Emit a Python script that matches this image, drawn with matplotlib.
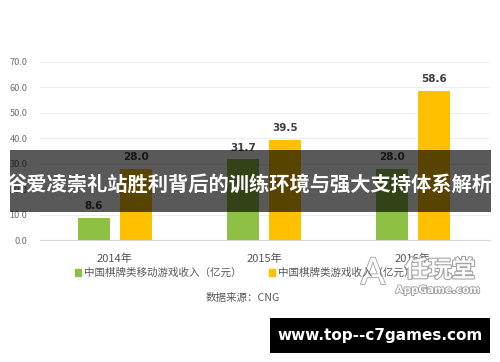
import matplotlib
matplotlib.use("Agg")
import matplotlib.pyplot as plt
import matplotlib.patches as mpatches
import matplotlib.patheffects as pe
import numpy as np

plt.rcParams['font.family'] = ['Noto Sans CJK SC', 'DejaVu Sans']

years = ['2014年', '2015年', '2016年']
mobile = [8.6, 31.7, 28.0]
total = [28.0, 39.5, 58.6]
series_names = ['中国棋牌类移动游戏收入（亿元）', '中国棋牌类游戏收入（亿元）']
yticks = [0, 10, 20, 30, 40, 50, 60, 70]
title = '谷爱凌崇礼站胜利背后的训练环境与强大支持体系解析'
source = '数据来源：CNG'
site = 'www.top--c7games.com'

green = '#8DC044'
yellow = '#FFC000'

W, H = 500, 362
fig = plt.figure(figsize=(W / 100, H / 100), dpi=100)
fig.patch.set_facecolor('white')

ax = fig.add_axes([40 / W, 1 - 240 / H, 450 / W, 178 / H])
x = np.arange(len(years))
bw = 0.22
off = 0.141
b1 = ax.bar(x - off, mobile, bw, color=green, zorder=3)
b2 = ax.bar(x + off, total, bw, color=yellow, zorder=3)
for bars, vals in ((b1, mobile), (b2, total)):
    for r, v in zip(bars, vals):
        ax.text(r.get_x() + r.get_width() / 2, v + 4.6, f'{v:.1f}', ha='center', va='center',
                fontsize=7.5, fontweight='bold', color='#404040', family='DejaVu Sans', zorder=4)

ax.set_xlim(-0.503, 2.517)
ax.set_ylim(0, 70)
ax.set_yticks(yticks)
ax.set_yticklabels([f'{t:.1f}' for t in yticks], fontsize=6.6, color='#707070')
ax.set_xticks(x)
ax.set_xticklabels(years, fontsize=8, color='#555555')
ax.tick_params(axis='both', length=0)
ax.tick_params(axis='x', pad=10)
ax.tick_params(axis='y', pad=9)
ax.grid(axis='y', color='#EEEEEE', linewidth=0.8, zorder=0)
for s in ['top', 'right', 'left']:
    ax.spines[s].set_visible(False)
ax.spines['bottom'].set_color('#D9D9D9')
ax.spines['bottom'].set_linewidth(0.8)

# legend
handles = [mpatches.Patch(color=green, label=series_names[0]),
           mpatches.Patch(color=yellow, label=series_names[1])]
fig.legend(handles=handles, loc='center', bbox_to_anchor=(245 / W, 1 - 273 / H), ncol=2,
           frameon=False, fontsize=7.6, handlelength=0.55, handleheight=0.55, handletextpad=0.3,
           columnspacing=2.6, labelcolor='#595959')
fig.text(243 / W, 1 - 298 / H, source, ha='center', va='center', fontsize=7.6, color='#595959')

# watermark logo
fig.text(440 / W, 1 - 270 / H, '任玩堂', ha='center', va='center', fontsize=17, fontweight='bold',
         color='white', path_effects=[pe.withStroke(linewidth=1.5, foreground='#9a9a9a')], alpha=0.9)
fig.text(438 / W, 1 - 290 / H, 'AppGame.com', ha='center', va='center', fontsize=7.5, fontweight='bold',
         color='white', family='DejaVu Sans',
         path_effects=[pe.withStroke(linewidth=1.2, foreground='#9a9a9a')])
fig.text(373 / W, 1 - 274 / H, 'A', ha='center', va='center', fontsize=26, color='white',
         family='DejaVu Sans', path_effects=[pe.withStroke(linewidth=1.2, foreground='#a0a0a0')])

# overlay band with title
fig.patches.append(mpatches.Rectangle((10 / W, 1 - 212 / H), 481 / W, 62 / H,
                                      transform=fig.transFigure, facecolor='black', alpha=0.65,
                                      edgecolor='none', zorder=5))
fig.text(250 / W, 1 - 184 / H, title, ha='center', va='center', fontsize=14.6, fontweight='bold',
         color='white', zorder=6)

# site box
fig.patches.append(mpatches.Rectangle((270 / W, 1 - 353 / H), 220 / W, 35 / H,
                                      transform=fig.transFigure, facecolor='black',
                                      edgecolor='none', zorder=5))
fig.text(380 / W, 1 - 335.5 / H, site, ha='center', va='center', fontsize=11, fontweight='bold',
         color='white', family='DejaVu Sans', zorder=6)

fig.savefig('out.png', dpi=100)
